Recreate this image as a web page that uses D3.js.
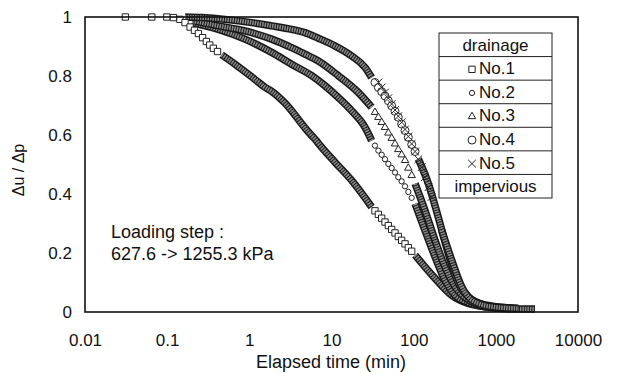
<!DOCTYPE html>
<html>
<head>
<meta charset="utf-8">
<script src="https://cdn.jsdelivr.net/npm/d3@7"></script>
<style>
  body { margin: 0; background: #fff; }
  text { font-family: "Liberation Sans", Arial, sans-serif; fill: #111; }
</style>
</head>
<body>
<svg id="chart" width="619" height="373"></svg>
<script>
// tick labels
const xTicks = [0.01, 0.1, 1, 10, 100, 1000, 10000];
const xTickLabels = ['0.01', '0.1', '1', '10', '100', '1000', '10000'];
const yTicks = [0, 0.2, 0.4, 0.6, 0.8, 1];

const legendRows = ['drainage', 'No.1', 'No.2', 'No.3', 'No.4', 'No.5', 'impervious'];

// elapsed time (min) and du/dp
const no1Time = [0.031, 0.065, 0.099, 0.119, 0.143, 0.165, 0.19, 0.215, 0.24, 0.27, 0.30, 0.33, 0.365, 0.41, 0.46, 0.67, 1.07, 1.29, 1.55, 1.87, 2.72, 4.99, 5.74, 6.30, 6.92, 11.0, 17.6, 30.8, 33.8, 37.2, 40.8, 44.8, 49.2, 54.0, 59.3, 65.0, 71.4, 78.5, 86.1, 94.6, 104, 182, 290, 462, 738, 1177, 3000];
const no1Value = [1.0, 1.0, 1.0, 0.998, 0.992, 0.981, 0.966, 0.955, 0.944, 0.930, 0.917, 0.905, 0.894, 0.883, 0.872, 0.840, 0.797, 0.779, 0.762, 0.748, 0.708, 0.617, 0.598, 0.586, 0.572, 0.508, 0.446, 0.356, 0.343, 0.331, 0.318, 0.305, 0.293, 0.280, 0.268, 0.256, 0.243, 0.231, 0.218, 0.206, 0.193, 0.114, 0.057, 0.029, 0.018, 0.012, 0.010];

const no2Time = [0.20, 0.42, 0.885, 1.87, 3.27, 5.74, 8.34, 12.1, 17.6, 25.6, 30.8, 33.8, 37.2, 40.8, 44.8, 49.2, 54.0, 59.3, 65.0, 71.4, 78.5, 86.1, 94.6, 104, 137, 182, 240, 318, 462, 738, 1500];
const no2Value = [0.981, 0.958, 0.925, 0.880, 0.840, 0.801, 0.767, 0.727, 0.682, 0.626, 0.581, 0.564, 0.547, 0.533, 0.518, 0.502, 0.488, 0.473, 0.457, 0.443, 0.426, 0.407, 0.387, 0.367, 0.277, 0.187, 0.108, 0.057, 0.032, 0.018, 0.012];

const no3Time = [0.218, 0.42, 0.885, 1.87, 3.27, 4.75, 6.92, 12.1, 21.2, 30.8, 33.8, 37.2, 40.8, 44.8, 49.2, 54.0, 59.3, 65.0, 71.4, 78.5, 86.1, 94.6, 104, 137, 182, 240, 318, 462, 738, 1500];
const no3Value = [0.986, 0.970, 0.953, 0.925, 0.896, 0.874, 0.851, 0.801, 0.744, 0.694, 0.677, 0.660, 0.643, 0.626, 0.607, 0.589, 0.570, 0.551, 0.533, 0.514, 0.488, 0.463, 0.435, 0.345, 0.243, 0.153, 0.086, 0.041, 0.020, 0.012];

const no4Time = [0.165, 0.263, 0.506, 1.07, 1.87, 3.27, 4.75, 6.92, 11.0, 17.6, 25.6, 30.8, 33.8, 37.2, 40.8, 44.8, 49.2, 54.0, 59.3, 65.0, 71.4, 78.5, 86.1, 94.6, 104, 114, 151, 199, 264, 350, 462, 738, 1880];
const no4Value = [1.0, 0.998, 0.992, 0.981, 0.970, 0.958, 0.947, 0.928, 0.902, 0.868, 0.829, 0.795, 0.778, 0.761, 0.747, 0.732, 0.716, 0.699, 0.680, 0.660, 0.637, 0.615, 0.592, 0.568, 0.544, 0.519, 0.435, 0.322, 0.198, 0.097, 0.052, 0.024, 0.012];

const no5Time = [37.2, 40.8, 44.8, 49.2, 54.0, 59.3, 65.0, 71.4, 78.5, 86.1, 94.6, 104, 114, 125, 137, 151, 165, 219, 290, 384, 508, 889, 1880];
const no5Value = [0.778, 0.761, 0.744, 0.725, 0.705, 0.685, 0.664, 0.643, 0.619, 0.595, 0.570, 0.544, 0.518, 0.491, 0.457, 0.423, 0.390, 0.277, 0.176, 0.086, 0.041, 0.018, 0.012];

// markers only show where the original data spread out; elsewhere they merge into a band
const series = [
  { name: 'No.1', time: no1Time, value: no1Value, symbol: d3.symbolSquare, size: 40, marks: [[0, 0.42], [33, 100]] },
  { name: 'No.2', time: no2Time, value: no2Value, symbol: d3.symbolCircle, size: 22, marks: [[32, 100]] },
  { name: 'No.3', time: no3Time, value: no3Value, symbol: d3.symbolTriangle, size: 24, marks: [[32, 100]] },
  { name: 'No.4', time: no4Time, value: no4Value, symbol: d3.symbolCircle, size: 50, marks: [[32, 110]] },
  { name: 'No.5', time: no5Time, value: no5Value, symbol: d3.symbolX, size: 40, marks: [[0, 170]] },
];

const inMarks = (s, t) => s.marks.some((r) => t >= r[0] && t <= r[1]);

const svg = d3.select('#chart');
const plot = { left: 85, right: 578, top: 17, bottom: 312 };

const x = d3.scaleLog().domain([0.01, 10000]).range([plot.left, plot.right]);
const y = d3.scaleLinear().domain([0, 1]).range([plot.bottom, plot.top]);

series.forEach((s) => {
  const pts = s.time.map((t, i) => [t, s.value[i]]);
  const band = d3.line()
    .defined((d) => !inMarks(s, d[0]))
    .x((d) => x(d[0]))
    .y((d) => y(d[1]))
    .curve(d3.curveMonotoneX);
  svg.append('path').attr('d', band(pts))
    .attr('fill', 'none').attr('stroke', '#1a1a1a').attr('stroke-width', 7.5)
    .attr('stroke-linecap', 'butt');
  svg.append('path').attr('d', band(pts))
    .attr('fill', 'none').attr('stroke', '#8c8c8c').attr('stroke-width', 4.5)
    .attr('stroke-dasharray', '1.5,1');
});

series.forEach((s) => {
  svg.append('g')
    .selectAll('path')
    .data(s.time.map((t, i) => [t, s.value[i]]).filter((d) => inMarks(s, d[0])))
    .enter()
    .append('path')
    .attr('transform', (d) => `translate(${x(d[0])},${y(d[1])})`)
    .attr('d', d3.symbol().type(s.symbol).size(s.size))
    .attr('fill', s.symbol === d3.symbolX ? '#222' : '#fff')
    .attr('stroke', '#222')
    .attr('stroke-width', 1);
});

// frame
svg.append('rect')
  .attr('x', plot.left).attr('y', plot.top)
  .attr('width', plot.right - plot.left).attr('height', plot.bottom - plot.top)
  .attr('fill', 'none').attr('stroke', '#111').attr('stroke-width', 1.6);

// axes
const xAxis = svg.append('g')
  .attr('transform', `translate(0,${plot.bottom})`)
  .call(d3.axisBottom(x).tickValues(xTicks).tickFormat((d, i) => xTickLabels[i]).tickSize(0).tickPadding(22));
xAxis.select('.domain').remove();
xAxis.selectAll('text').style('font-size', '17px').attr('fill', '#111');

const yAxis = svg.append('g')
  .attr('transform', `translate(${plot.left},0)`)
  .call(d3.axisLeft(y).tickValues(yTicks).tickFormat(d3.format('')).tickSize(0).tickPadding(13));
yAxis.select('.domain').remove();
yAxis.selectAll('text').style('font-size', '17px').attr('fill', '#111');

svg.append('text')
  .attr('x', 331).attr('y', 368)
  .attr('text-anchor', 'middle')
  .style('font-size', '18px')
  .text('Elapsed time (min)');

svg.append('text')
  .attr('transform', 'translate(24,170) rotate(-90)')
  .attr('text-anchor', 'middle')
  .style('font-size', '16px')
  .text('Δu / Δp');

// loading step note
svg.append('text').attr('x', 111).attr('y', 238).style('font-size', '18px').text('Loading step :');
svg.append('text').attr('x', 111).attr('y', 260).style('font-size', '18px').text('627.6 -> 1255.3 kPa');

// legend table
const lg = { x: 439, y: 33, w: 113, h: 165 };
const rowH = lg.h / legendRows.length;
const legend = svg.append('g');
legend.append('rect')
  .attr('x', lg.x).attr('y', lg.y).attr('width', lg.w).attr('height', lg.h)
  .attr('fill', '#fff').attr('stroke', '#222').attr('stroke-width', 1);
legend.selectAll('line')
  .data(legendRows.slice(1))
  .enter()
  .append('line')
  .attr('x1', lg.x).attr('x2', lg.x + lg.w)
  .attr('y1', (d, i) => lg.y + rowH * (i + 1))
  .attr('y2', (d, i) => lg.y + rowH * (i + 1))
  .attr('stroke', '#222').attr('stroke-width', 1);

legendRows.forEach((label, i) => {
  const cy = lg.y + rowH * (i + 0.5);
  const s = series.find((d) => d.name === label);
  if (s) {
    legend.append('path')
      .attr('transform', `translate(${lg.x + 33},${cy + 1})`)
      .attr('d', d3.symbol().type(s.symbol).size(s.size))
      .attr('fill', s.symbol === d3.symbolX ? '#222' : '#fff')
      .attr('stroke', '#222').attr('stroke-width', 1);
    legend.append('text')
      .attr('x', lg.x + 40).attr('y', cy).attr('dy', '0.35em')
      .style('font-size', '17px').text(label);
  } else {
    legend.append('text')
      .attr('x', lg.x + lg.w / 2).attr('y', cy).attr('dy', '0.35em')
      .attr('text-anchor', 'middle')
      .style('font-size', '17px').text(label);
  }
});
</script>
</body>
</html>
